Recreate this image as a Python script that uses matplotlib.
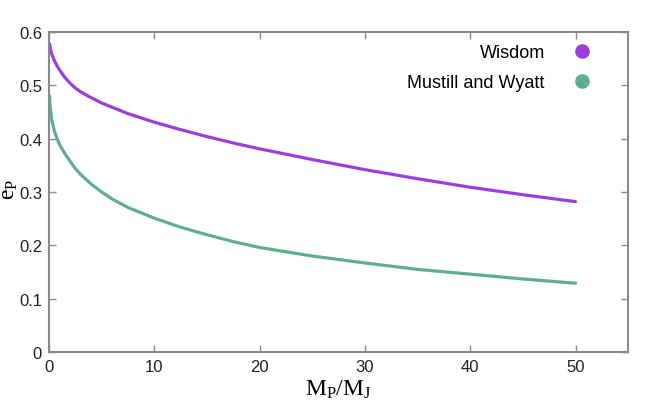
import numpy as np
import matplotlib
matplotlib.use("Agg")
import matplotlib.pyplot as plt

# values
mass_ratio_w = [0.05, 0.2, 0.5, 0.75, 1, 1.5, 2, 2.5, 3, 4, 5, 6, 7.5, 10,
                12.5, 15, 17.5, 20, 25, 30, 35, 40, 45, 50]
ecc_wisdom = [0.578, 0.562, 0.547, 0.537, 0.529, 0.515, 0.504, 0.495, 0.488,
              0.477, 0.467, 0.459, 0.447, 0.431, 0.417, 0.404, 0.392, 0.381,
              0.361, 0.342, 0.325, 0.309, 0.295, 0.282]

mass_ratio_m = [0.05, 0.1, 0.2, 0.3, 0.5, 0.75, 1, 1.5, 2, 2.5, 3, 4, 5, 6,
                7.5, 10, 12.5, 15, 17.5, 20, 25, 30, 35, 40, 45, 50]
ecc_mustill = [0.480, 0.461, 0.444, 0.432, 0.415, 0.401, 0.389, 0.372, 0.358,
               0.344, 0.333, 0.315, 0.300, 0.287, 0.271, 0.251, 0.234, 0.220,
               0.207, 0.196, 0.180, 0.167, 0.155, 0.146, 0.137, 0.129]

labels = ["Wisdom", "Mustill and Wyatt"]
xticks = [0, 10, 20, 30, 40, 50]
yticks = [0, 0.1, 0.2, 0.3, 0.4, 0.5, 0.6]

PURPLE = "#9a3fdc"
GREEN = "#5fae8c"
SPINE = "#8a8a8a"

plt.rcParams["font.family"] = ["Liberation Sans", "DejaVu Sans"]

fig = plt.figure(figsize=(6.45, 4.06), dpi=100)
ax = fig.add_axes([0.076, 0.1305, 0.898, 0.788])

ax.plot(mass_ratio_w, ecc_wisdom, color=PURPLE, lw=2.3, solid_capstyle="round")
ax.plot(mass_ratio_m, ecc_mustill, color=GREEN, lw=2.3, solid_capstyle="round")

# legend handles (gnuplot style: text first, big dot after)
handles = []
for lab, col in zip(labels, [PURPLE, GREEN]):
    h, = ax.plot([], [], ls="none", marker="o", ms=9.5, color=col, label=lab)
    handles.append(h)
ax.legend(handles, labels, loc="upper right", markerfirst=False,
          frameon=False, fontsize=13, handlelength=0.9, handletextpad=1.6,
          labelspacing=0.7, bbox_to_anchor=(0.962, 1.012))

ax.set_xlim(0, 55)
ax.set_ylim(0, 0.6)
ax.set_xticks(xticks)
ax.set_yticks(yticks)
ax.set_yticklabels(["0", "0.1", "0.2", "0.3", "0.4", "0.5", "0.6"])
ax.tick_params(direction="in", top=True, right=True, length=5, width=1,
               color=SPINE, labelsize=12, labelcolor="#222222", pad=5)
for s in ax.spines.values():
    s.set_color(SPINE)
    s.set_linewidth(1.5)

ax.set_xlabel(r"$\mathregular{M_P/M_J}$", fontsize=17, family="Liberation Serif",
              labelpad=3)
ax.set_ylabel(r"$\mathregular{e_P}$", fontsize=17, family="Liberation Serif")
ax.yaxis.set_label_coords(-0.05, 0.51)

fig.savefig("out.png", dpi=100)
